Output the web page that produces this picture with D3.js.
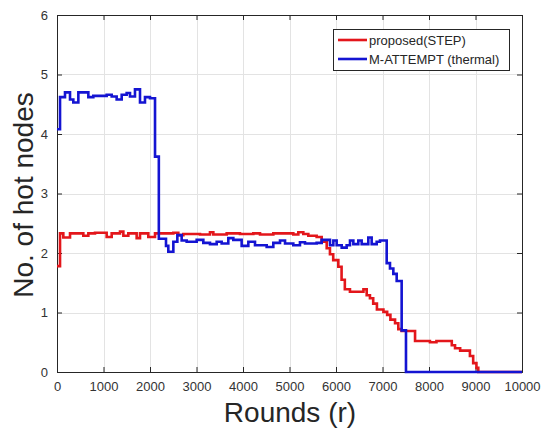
<!DOCTYPE html>
<html>
<head>
<meta charset="utf-8">
<script src="https://cdn.jsdelivr.net/npm/d3@7"></script>
<style>
  body { margin: 0; background: #fff; }
  svg { display: block; font-family: "Liberation Sans", Arial, sans-serif; }
</style>
</head>
<body>
<svg id="chart" width="544" height="428"></svg>
<script>
// proposed(STEP), step values (value holds from round until next round)
const redRounds = [0, 65, 136, 280, 566, 674, 817, 1068, 1176, 1355, 1427, 1534, 1713, 1785, 1964, 2108,
  2502, 2609, 2717, 3075, 3290, 3362, 3649, 3935, 4222, 4366, 4652, 5082, 5190, 5297, 5405, 5584,
  5692, 5800, 5870, 5940, 6050, 6120, 6190, 6300, 6590, 6660, 6730, 6800, 6880, 7020, 7100, 7170,
  7270, 7340, 7410, 7700, 8020, 8160, 8490, 8560, 8670, 8880, 8950, 9020, 9060, 10000];
const redValues = [1.78, 2.33, 2.26, 2.33, 2.29, 2.33, 2.34, 2.27, 2.33, 2.36, 2.29, 2.33, 2.25, 2.33, 2.27, 2.33,
  2.34, 2.30, 2.32, 2.31, 2.35, 2.31, 2.33, 2.32, 2.33, 2.31, 2.33, 2.31, 2.35, 2.32, 2.29, 2.27,
  2.19, 2.08, 1.98, 1.88, 1.77, 1.55, 1.39, 1.35, 1.39, 1.29, 1.24, 1.15, 1.05, 1.01, 0.96, 0.88,
  0.82, 0.72, 0.69, 0.52, 0.50, 0.52, 0.45, 0.40, 0.36, 0.27, 0.15, 0.07, 0, 0];

// M-ATTEMPT (thermal)
const blueRounds = [0, 65, 172, 280, 351, 459, 674, 781, 1068, 1176, 1283, 1391, 1498, 1570, 1677, 1785,
  1892, 2000, 2108, 2190, 2344, 2394, 2502, 2588, 2681, 2789, 3004, 3147, 3290, 3434, 3541, 3684,
  3792, 3971, 4115, 4258, 4509, 4652, 4796, 4904, 5082, 5225, 5333, 5584, 5692, 5871, 5943, 6014,
  6122, 6229, 6301, 6373, 6480, 6552, 6695, 6767, 6875, 6946, 7090, 7161, 7233, 7305, 7412, 7505, 10000];
const blueValues = [4.08, 4.62, 4.70, 4.58, 4.53, 4.70, 4.62, 4.64, 4.66, 4.63, 4.58, 4.66, 4.69, 4.63, 4.75, 4.53,
  4.62, 4.60, 3.62, 2.24, 2.12, 2.02, 2.19, 2.30, 2.21, 2.19, 2.22, 2.17, 2.15, 2.19, 2.16, 2.25,
  2.22, 2.12, 2.19, 2.13, 2.10, 2.17, 2.21, 2.16, 2.13, 2.18, 2.16, 2.17, 2.22, 2.13, 2.21, 2.13,
  2.09, 2.13, 2.21, 2.15, 2.21, 2.15, 2.26, 2.15, 2.19, 2.21, 1.83, 1.74, 1.65, 1.53, 0.70, 0, 0];

const xTicks = [0, 1000, 2000, 3000, 4000, 5000, 6000, 7000, 8000, 9000, 10000];
const yTicks = [0, 1, 2, 3, 4, 5, 6];
const seriesNames = ["proposed(STEP)", "M-ATTEMPT (thermal)"];
const seriesColors = ["#e3161b", "#1414d2"];

const svg = d3.select("#chart");
const plotLeft = 57, plotRight = 522, plotTop = 15, plotBottom = 372;

const x = d3.scaleLinear().domain([0, 10000]).range([plotLeft, plotRight]);
const y = d3.scaleLinear().domain([0, 6]).range([plotBottom, plotTop]);

// grid
const grid = svg.append("g").attr("stroke", "#e3e3e3").attr("stroke-width", 1);
grid.selectAll(".vx").data(xTicks.slice(1, -1)).enter().append("line")
  .attr("x1", d => Math.round(x(d)) + 0.5).attr("x2", d => Math.round(x(d)) + 0.5)
  .attr("y1", plotTop).attr("y2", plotBottom);
grid.selectAll(".hy").data(yTicks.slice(1, -1)).enter().append("line")
  .attr("y1", d => Math.round(y(d)) + 0.5).attr("y2", d => Math.round(y(d)) + 0.5)
  .attr("x1", plotLeft).attr("x2", plotRight);

// axes
const xAxis = svg.append("g").attr("transform", `translate(0,${plotBottom})`)
  .call(d3.axisBottom(x).tickValues(xTicks).tickSize(-5).tickPadding(10).tickFormat(d3.format("d")));
const xTop = svg.append("g").attr("transform", `translate(0,${plotTop})`)
  .call(d3.axisTop(x).tickValues(xTicks).tickSize(-5).tickFormat(""));
const yAxis = svg.append("g").attr("transform", `translate(${plotLeft},0)`)
  .call(d3.axisLeft(y).tickValues(yTicks).tickSize(-5).tickPadding(9).tickFormat(d3.format("d")));
const yRight = svg.append("g").attr("transform", `translate(${plotRight},0)`)
  .call(d3.axisRight(y).tickValues(yTicks).tickSize(-5).tickFormat(""));

[xAxis, xTop, yAxis, yRight].forEach(g => {
  g.select(".domain").attr("stroke", "#262626");
  g.selectAll(".tick line").attr("stroke", "#262626");
  g.selectAll(".tick text").attr("fill", "#333").style("font-size", "13px")
    .style("font-family", "'Liberation Sans', Arial, sans-serif");
});

// lines
const line = d3.line().x(d => x(d[0])).y(d => y(d[1])).curve(d3.curveStepAfter);
const redData = redRounds.map((r, i) => [r, redValues[i]]);
const blueData = blueRounds.map((r, i) => [r, blueValues[i]]);

svg.append("path").datum(redData).attr("d", line)
  .attr("fill", "none").attr("stroke", seriesColors[0]).attr("stroke-width", 2.6);
svg.append("path").datum(blueData).attr("d", line)
  .attr("fill", "none").attr("stroke", seriesColors[1]).attr("stroke-width", 2.6);

// legend
const lg = svg.append("g").attr("transform", "translate(333,29)");
lg.append("rect").attr("x", 0.5).attr("y", 0.5).attr("width", 176).attr("height", 41)
  .attr("fill", "#fff").attr("stroke", "#262626").attr("stroke-width", 1);
seriesNames.forEach((name, i) => {
  const yy = 11 + i * 19;
  lg.append("line").attr("x1", 5).attr("x2", 34).attr("y1", yy).attr("y2", yy)
    .attr("stroke", seriesColors[i]).attr("stroke-width", 2.6);
  lg.append("text").attr("x", 36).attr("y", yy + 4.5).text(name)
    .attr("fill", "#262626").style("font-size", "13px");
});

// axis labels
svg.append("text").attr("x", 290).attr("y", 422).attr("text-anchor", "middle")
  .attr("fill", "#262626").style("font-size", "28px").text("Rounds (r)");
svg.append("text").attr("transform", "translate(33,195) rotate(-90)")
  .attr("text-anchor", "middle").attr("fill", "#262626").style("font-size", "28px").text("No. of hot nodes");
</script>
</body>
</html>
